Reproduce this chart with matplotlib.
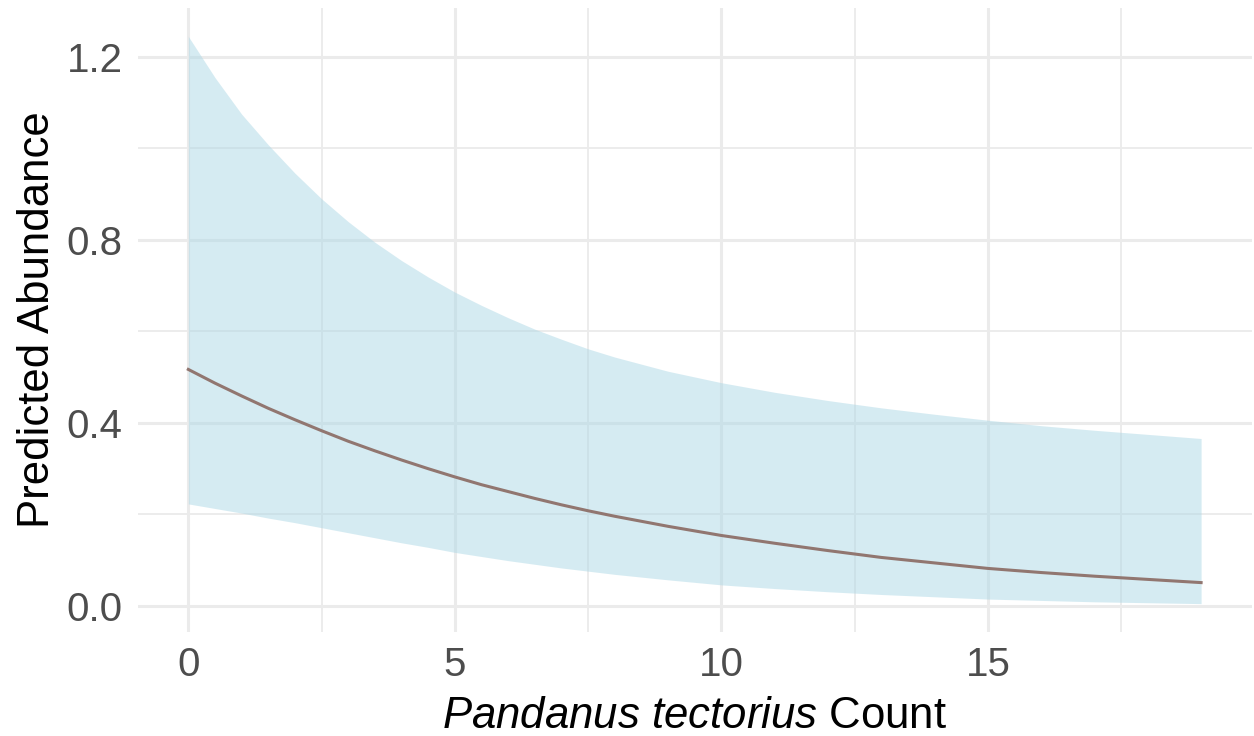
import matplotlib
matplotlib.use("Agg")
import matplotlib.pyplot as plt
from matplotlib.ticker import MultipleLocator

plt.rcParams["font.family"] = ["Liberation Sans", "DejaVu Sans"]
plt.rcParams["mathtext.fontset"] = "custom"
plt.rcParams["mathtext.rm"] = "Liberation Sans"
plt.rcParams["mathtext.it"] = "Liberation Sans:italic"

# Model predictions of abundance against Pandanus tectorius count
count = [0, 0.5, 1, 1.5, 2, 2.5, 3, 3.5, 4, 4.5, 5, 5.5, 6, 6.5, 7, 7.5, 8,
         9, 10, 11, 12, 13, 14, 15, 16, 17, 18, 19]
fit = [0.517, 0.487, 0.459, 0.432, 0.407, 0.383, 0.360, 0.339, 0.319, 0.300,
       0.282, 0.265, 0.250, 0.235, 0.221, 0.208, 0.196, 0.174, 0.154, 0.137,
       0.121, 0.106, 0.094, 0.082, 0.073, 0.065, 0.058, 0.051]
lower = [0.223, 0.213, 0.203, 0.192, 0.182, 0.171, 0.160, 0.149, 0.138, 0.128,
         0.117, 0.108, 0.099, 0.091, 0.083, 0.076, 0.069, 0.057, 0.046, 0.038,
         0.031, 0.025, 0.020, 0.015, 0.012, 0.009, 0.007, 0.005]
upper = [1.245, 1.155, 1.075, 1.008, 0.946, 0.890, 0.840, 0.795, 0.755, 0.719,
         0.686, 0.657, 0.630, 0.605, 0.583, 0.562, 0.544, 0.513, 0.488, 0.467,
         0.449, 0.433, 0.419, 0.406, 0.394, 0.384, 0.375, 0.366]

x_ticks = [0, 5, 10, 15]
y_ticks = [0.0, 0.4, 0.8, 1.2]
y_tick_labels = ["0.0", "0.4", "0.8", "1.2"]

fig = plt.figure(figsize=(12.54, 7.36), dpi=100)
ax = fig.add_axes([0.1098, 0.1413, 0.8884, 0.8478])

grid_col = "#EBEBEB"
ax.set_axisbelow(True)
ax.xaxis.set_minor_locator(MultipleLocator(2.5))
ax.yaxis.set_minor_locator(MultipleLocator(0.2))
ax.grid(which="major", color=grid_col, linewidth=2.2)
ax.grid(which="minor", color=grid_col, linewidth=1.3)

ax.fill_between(count, lower, upper, color="lightblue", alpha=0.5,
                linewidth=0, zorder=2)
ax.plot(count, fit, color="#917670", linewidth=2.2, zorder=3,
        solid_joinstyle="round")

# ggplot-style 5% expansion around the data range
ymin, ymax = min(lower), max(upper)
yr = ymax - ymin
xr = max(count) - min(count)
ax.set_xlim(min(count) - 0.05 * xr, max(count) + 0.05 * xr)
ax.set_ylim(ymin - 0.05 * yr, ymax + 0.05 * yr)

ax.set_xticks(x_ticks)
ax.set_yticks(y_ticks)
ax.set_yticklabels(y_tick_labels)
ax.tick_params(which="both", length=0, labelsize=29, labelcolor="#4D4D4D")
ax.tick_params(axis="x", pad=10)
ax.tick_params(axis="y", pad=11)
for s in ax.spines.values():
    s.set_visible(False)

ax.set_xlabel(r"$\it{Pandanus\ tectorius}$ Count", fontsize=31.5, color="black",
              labelpad=9)
ax.set_ylabel("Predicted Abundance", fontsize=31.5, color="black", labelpad=6)

fig.savefig("out.png", dpi=100, facecolor="white")
